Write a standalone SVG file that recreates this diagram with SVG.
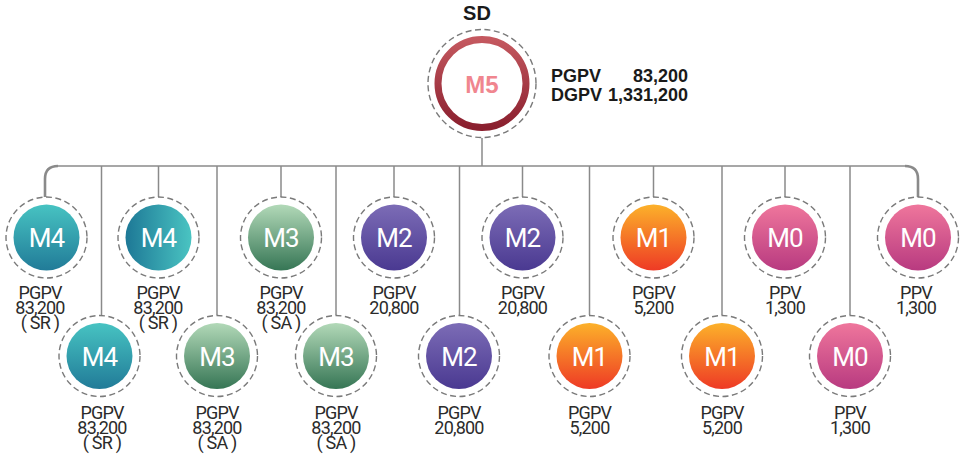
<svg xmlns="http://www.w3.org/2000/svg" width="960" height="456" viewBox="0 0 960 456">
<defs>
<linearGradient id="gM4" x1="0" y1="0" x2="0" y2="1"><stop offset="0" stop-color="#47c3c2"/><stop offset="1" stop-color="#217b98"/></linearGradient>
<linearGradient id="gM4h" x1="0" y1="0" x2="1" y2="0"><stop offset="0" stop-color="#1d7896"/><stop offset="1" stop-color="#4ac4c2"/></linearGradient>
<linearGradient id="gM3" x1="0" y1="0" x2="0" y2="1"><stop offset="0" stop-color="#b2d9b8"/><stop offset="1" stop-color="#367655"/></linearGradient>
<linearGradient id="gM2" x1="0" y1="0" x2="0" y2="1"><stop offset="0" stop-color="#7c6cb6"/><stop offset="1" stop-color="#4a3991"/></linearGradient>
<linearGradient id="gM1" x1="0" y1="0" x2="0" y2="1"><stop offset="0" stop-color="#fcb12a"/><stop offset="1" stop-color="#ee3a25"/></linearGradient>
<linearGradient id="gM0" x1="0" y1="0" x2="0" y2="1"><stop offset="0" stop-color="#ef769c"/><stop offset="1" stop-color="#b83a80"/></linearGradient>
<linearGradient id="gM5" x1="0" y1="0" x2="0" y2="1"><stop offset="0" stop-color="#c4585f"/><stop offset="1" stop-color="#8a1f2e"/></linearGradient>
</defs>
<style>
.dash{fill:#fff;stroke:#7a7a7a;stroke-width:1.4;stroke-dasharray:6 3.5}
.lbl{font-family:Roboto,"Liberation Sans",sans-serif;font-size:26px;fill:#fff;text-anchor:middle;letter-spacing:-1px}
.cap{font-family:Roboto,"Liberation Sans",sans-serif;font-size:18px;fill:#2b2b2b;text-anchor:middle;letter-spacing:-0.8px}
.bold{font-family:"Liberation Sans",Arial,sans-serif;font-weight:bold;fill:#1a1a1a}
.ln{fill:none;stroke:#8a8a8a;stroke-width:1.5}
.lnb{fill:none;stroke:#8a8a8a;stroke-width:2.6}
</style>

<g id="connectors">
<line class="ln" x1="482" y1="138" x2="482" y2="166"/>
<line class="ln" x1="58" y1="166" x2="905" y2="166"/>
<path class="lnb" d="M58,166 Q45,166 45,179 L45,197"/>
<path class="lnb" d="M905,166 Q918,166 918,179 L918,197"/>
<line class="ln" x1="158.5" y1="166" x2="158.5" y2="197"/>
<line class="ln" x1="281" y1="166" x2="281" y2="197"/>
<line class="ln" x1="394" y1="166" x2="394" y2="197"/>
<line class="ln" x1="522.5" y1="166" x2="522.5" y2="197"/>
<line class="ln" x1="653.5" y1="166" x2="653.5" y2="197"/>
<line class="ln" x1="785" y1="166" x2="785" y2="197"/>
<line class="ln" x1="101.5" y1="166" x2="101.5" y2="315"/>
<line class="ln" x1="217" y1="166" x2="217" y2="315"/>
<line class="ln" x1="336" y1="166" x2="336" y2="315"/>
<line class="ln" x1="459.5" y1="166" x2="459.5" y2="315"/>
<line class="ln" x1="589.5" y1="166" x2="589.5" y2="315"/>
<line class="ln" x1="722" y1="166" x2="722" y2="315"/>
<line class="ln" x1="850" y1="166" x2="850" y2="315"/>
</g>

<g id="sd">
<text class="bold" x="477" y="20" font-size="20" text-anchor="middle">SD</text>
<circle class="dash" cx="482" cy="83.5" r="54"/>
<circle cx="482" cy="83.5" r="44" fill="#fff" stroke="url(#gM5)" stroke-width="7"/>
<text class="bold" x="482" y="93" font-size="24" text-anchor="middle" fill="#f0868f" style="fill:#f0868f">M5</text>
<text class="bold" x="551" y="82" font-size="18">PGPV</text>
<text class="bold" x="688" y="82" font-size="18" text-anchor="end">83,200</text>
<text class="bold" x="551" y="101" font-size="18">DGPV</text>
<text class="bold" x="688" y="101" font-size="18" text-anchor="end">1,331,200</text>
</g>

<g id="t1"><circle class="dash" cx="46.5" cy="237.5" r="40.5"/><circle cx="46.5" cy="237.5" r="33" fill="url(#gM4)"/><text class="lbl" x="46.5" y="247">M4</text>
<text class="cap" x="40" y="299">PGPV</text><text class="cap" x="40" y="314">83,200</text><text class="cap" x="40" y="329">( SR )</text></g>
<g id="t2"><circle class="dash" cx="158.5" cy="237.5" r="40.5"/><circle cx="158.5" cy="237.5" r="33" fill="url(#gM4h)"/><text class="lbl" x="158.5" y="247">M4</text>
<text class="cap" x="158" y="299">PGPV</text><text class="cap" x="158" y="314">83,200</text><text class="cap" x="158" y="329">( SR )</text></g>
<g id="t3"><circle class="dash" cx="281" cy="237.5" r="40.5"/><circle cx="281" cy="237.5" r="33" fill="url(#gM3)"/><text class="lbl" x="281" y="247">M3</text>
<text class="cap" x="281" y="299">PGPV</text><text class="cap" x="281" y="314">83,200</text><text class="cap" x="281" y="329">( SA )</text></g>
<g id="t4"><circle class="dash" cx="394" cy="237.5" r="40.5"/><circle cx="394" cy="237.5" r="33" fill="url(#gM2)"/><text class="lbl" x="394" y="247">M2</text>
<text class="cap" x="394" y="299">PGPV</text><text class="cap" x="394" y="314">20,800</text></g>
<g id="t5"><circle class="dash" cx="522.5" cy="237.5" r="40.5"/><circle cx="522.5" cy="237.5" r="33" fill="url(#gM2)"/><text class="lbl" x="522.5" y="247">M2</text>
<text class="cap" x="522.5" y="299">PGPV</text><text class="cap" x="522.5" y="314">20,800</text></g>
<g id="t6"><circle class="dash" cx="653.5" cy="237.5" r="40.5"/><circle cx="653.5" cy="237.5" r="33" fill="url(#gM1)"/><text class="lbl" x="653.5" y="247">M1</text>
<text class="cap" x="653.5" y="299">PGPV</text><text class="cap" x="653.5" y="314">5,200</text></g>
<g id="t7"><circle class="dash" cx="785" cy="237.5" r="40.5"/><circle cx="785" cy="237.5" r="33" fill="url(#gM0)"/><text class="lbl" x="785" y="247">M0</text>
<text class="cap" x="785" y="299">PPV</text><text class="cap" x="785" y="314">1,300</text></g>
<g id="t8"><circle class="dash" cx="918" cy="237.5" r="40.5"/><circle cx="918" cy="237.5" r="33" fill="url(#gM0)"/><text class="lbl" x="918" y="247">M0</text>
<text class="cap" x="916" y="299">PPV</text><text class="cap" x="916" y="314">1,300</text></g>

<g id="b1"><circle class="dash" cx="99.5" cy="356" r="40.5"/><circle cx="99.5" cy="356" r="33" fill="url(#gM4)"/><text class="lbl" x="99.5" y="365.5">M4</text>
<text class="cap" x="102" y="419">PGPV</text><text class="cap" x="102" y="434">83,200</text><text class="cap" x="102" y="449">( SR )</text></g>
<g id="b2"><circle class="dash" cx="217" cy="356" r="40.5"/><circle cx="217" cy="356" r="33" fill="url(#gM3)"/><text class="lbl" x="217" y="365.5">M3</text>
<text class="cap" x="217" y="419">PGPV</text><text class="cap" x="217" y="434">83,200</text><text class="cap" x="217" y="449">( SA )</text></g>
<g id="b3"><circle class="dash" cx="336" cy="356" r="40.5"/><circle cx="336" cy="356" r="33" fill="url(#gM3)"/><text class="lbl" x="336" y="365.5">M3</text>
<text class="cap" x="336" y="419">PGPV</text><text class="cap" x="336" y="434">83,200</text><text class="cap" x="336" y="449">( SA )</text></g>
<g id="b4"><circle class="dash" cx="459" cy="356" r="40.5"/><circle cx="459" cy="356" r="33" fill="url(#gM2)"/><text class="lbl" x="459" y="365.5">M2</text>
<text class="cap" x="459" y="419">PGPV</text><text class="cap" x="459" y="434">20,800</text></g>
<g id="b5"><circle class="dash" cx="589.5" cy="356" r="40.5"/><circle cx="589.5" cy="356" r="33" fill="url(#gM1)"/><text class="lbl" x="589.5" y="365.5">M1</text>
<text class="cap" x="589.5" y="419">PGPV</text><text class="cap" x="589.5" y="434">5,200</text></g>
<g id="b6"><circle class="dash" cx="722" cy="356" r="40.5"/><circle cx="722" cy="356" r="33" fill="url(#gM1)"/><text class="lbl" x="722" y="365.5">M1</text>
<text class="cap" x="722" y="419">PGPV</text><text class="cap" x="722" y="434">5,200</text></g>
<g id="b7"><circle class="dash" cx="850" cy="356" r="40.5"/><circle cx="850" cy="356" r="33" fill="url(#gM0)"/><text class="lbl" x="850" y="365.5">M0</text>
<text class="cap" x="850" y="419">PPV</text><text class="cap" x="850" y="434">1,300</text></g>
</svg>
